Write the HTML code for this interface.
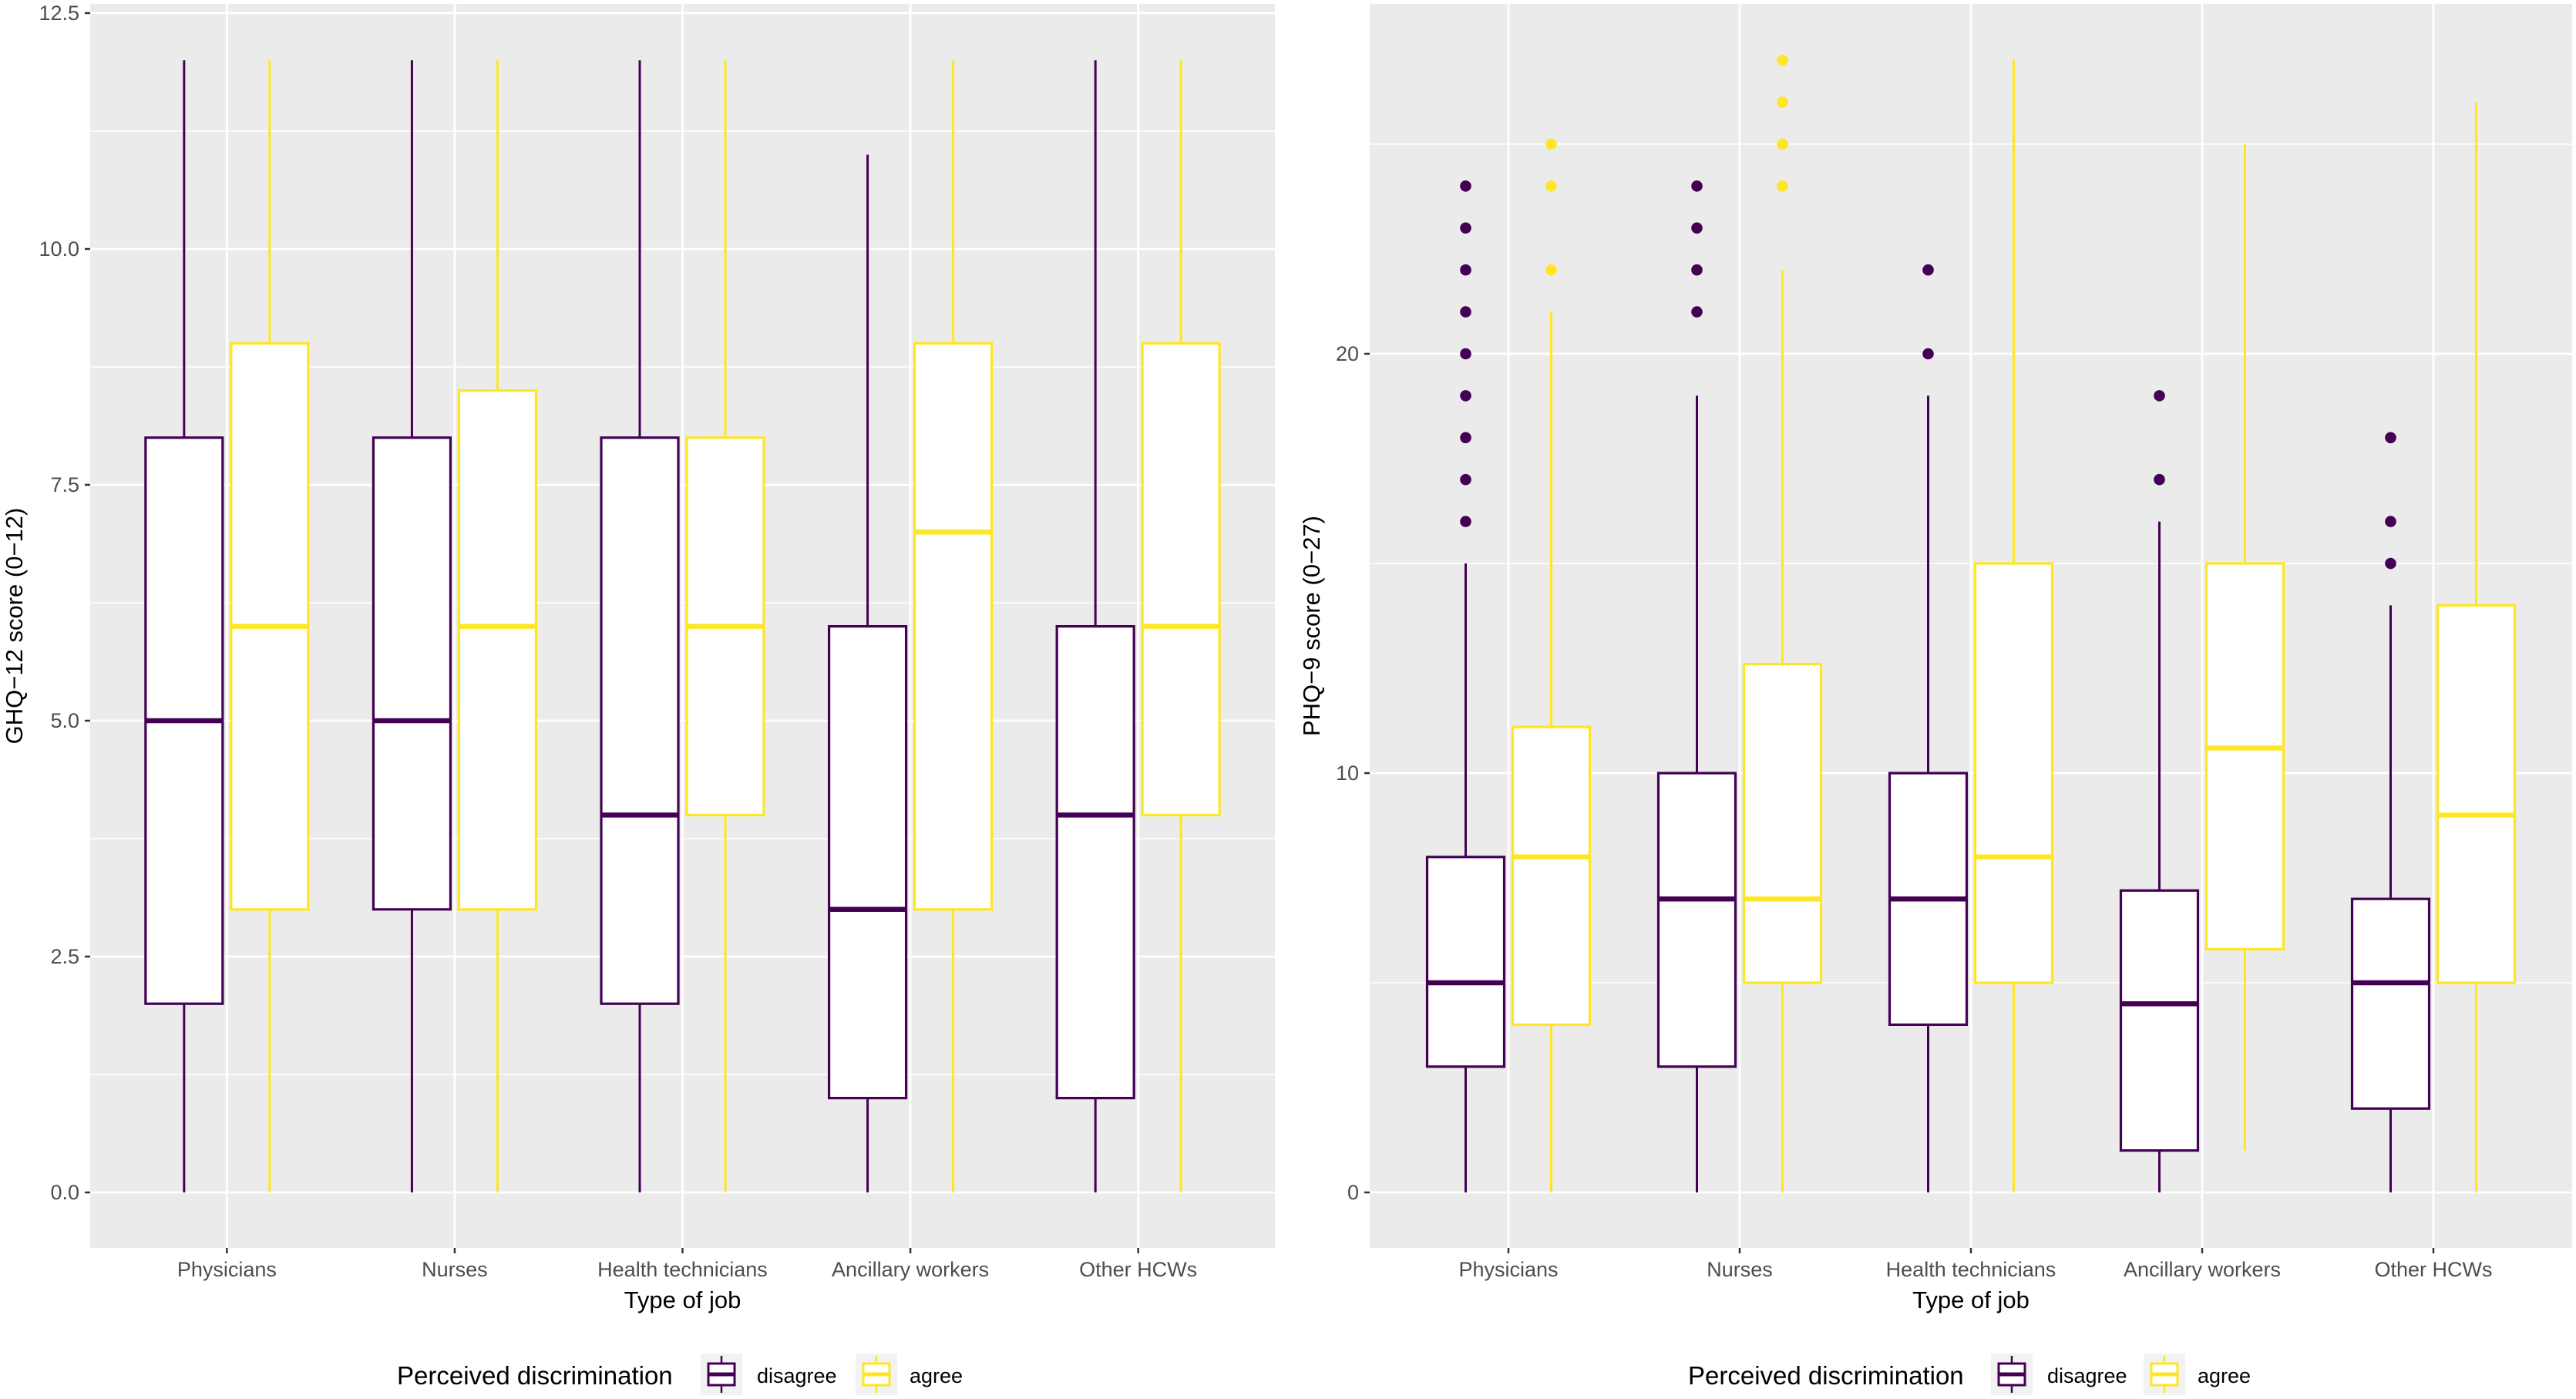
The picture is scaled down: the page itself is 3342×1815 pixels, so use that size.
<!DOCTYPE html>
<html><head><meta charset="utf-8"><style>
html,body{margin:0;padding:0;background:#fff}
svg{display:block;font-family:"Liberation Sans",Arial,sans-serif}
</style></head><body>
<svg id="chart" xmlns="http://www.w3.org/2000/svg" width="3342" height="1815" viewBox="0 0 3342 1815"></svg>
<script>
const categories = ["Physicians","Nurses","Health technicians","Ancillary workers","Other HCWs"];
// GHQ-12: [min, q1, median, q3, max]
const ghqDisagree = [[0,2,5,8,12],[0,3,5,8,12],[0,2,4,8,12],[0,1,3,6,11],[0,1,4,6,12]];
const ghqAgree = [[0,3,6,9,12],[0,3,6,8.5,12],[0,4,6,8,12],[0,3,7,9,12],[0,4,6,9,12]];
// PHQ-9
const phqDisagree = [[0,3,5,8,15],[0,3,7,10,19],[0,4,7,10,19],[0,1,4.5,7.2,16],[0,2,5,7,14]];
const phqAgree = [[0,4,8,11.1,21],[0,5,7,12.6,22],[0,5,8,15,27],[1,5.8,10.6,15,25],[0,5,9,14,26]];
const phqOutDisagree = [[16,17,18,19,20,21,22,23,24],[21,22,23,24],[20,22],[17,19],[15,16,18]];
const phqOutAgree = [[22,24,25],[24,25,26,27],[],[],[]];
const ghqTicks = [0,2.5,5,7.5,10,12.5];
const ghqTickLabels = ["0.0","2.5","5.0","7.5","10.0","12.5"];
const phqTicks = [0,10,20];
const phqTickLabels = ["0","10","20"];

const NS="http://www.w3.org/2000/svg";
const svg=document.getElementById('chart');
const PURPLE="#440154", YELLOW="#FDE725";
function mk(tag,attrs,parent){const e=document.createElementNS(NS,tag);for(const k in attrs)e.setAttribute(k,attrs[k]);(parent||svg).appendChild(e);return e;}

function panel(cfg){
  const g=mk('g',{});
  
  
  const L=cfg.left,R=cfg.right,T=5,B=1619,y0=1547;
  const ys=v=>y0-v*cfg.ppu;
  const step=(R-L)/5.2;
  const xs=i=>L+step*(0.6+i);
  const bg=mk('rect',{x:L,y:T,width:R-L,height:B-T,fill:"#EBEBEB"},g);
  
  
  const vmax=(y0-T)/cfg.ppu;
  for(let i=0;i<cfg.ticks.length;i++){
    const m=cfg.ticks[i]+cfg.minorStep;
    if(m<vmax) mk('line',{x1:L,x2:R,y1:ys(m),y2:ys(m),stroke:"#fff","stroke-width":1.4},g);
  }
  cfg.ticks.forEach((t,i)=>{
    const gl=mk('line',{x1:L,x2:R,y1:ys(t),y2:ys(t),stroke:"#fff","stroke-width":2.8},g);
    
    
    mk('line',{x1:L-7,x2:L,y1:ys(t),y2:ys(t),stroke:"#333","stroke-width":2.5},g);
    const tl=mk('text',{x:L-14,y:ys(t)+9,"text-anchor":"end","font-size":27,fill:"#4D4D4D"},g);
    tl.textContent=cfg.tickLabels[i];
    
    
  });
  categories.forEach((c,i)=>{
    mk('line',{x1:xs(i),x2:xs(i),y1:T,y2:B,stroke:"#fff","stroke-width":2.8},g);
    mk('line',{x1:xs(i),x2:xs(i),y1:B,y2:B+7,stroke:"#333","stroke-width":2.5},g);
    const tl=mk('text',{x:xs(i),y:1656,"text-anchor":"middle","font-size":27,fill:"#4D4D4D"},g);
    tl.textContent=c;
    
    
  });
  const series=[[cfg.dis,cfg.outDis,PURPLE,-55.5,'disagree'],[cfg.agr,cfg.outAgr,YELLOW,55.5,'agree']];
  series.forEach(([data,outs,col,off,nm])=>{
    data.forEach((d,i)=>{
      const cx=xs(i)+off,w=100;
      const bx=mk('g',{},g);
      
      
      mk('line',{x1:cx,x2:cx,y1:ys(d[0]),y2:ys(d[1]),stroke:col,"stroke-width":3},bx);
      mk('line',{x1:cx,x2:cx,y1:ys(d[3]),y2:ys(d[4]),stroke:col,"stroke-width":3},bx);
      mk('rect',{x:cx-w/2,y:ys(d[3]),width:w,height:ys(d[1])-ys(d[3]),fill:"#fff",stroke:col,"stroke-width":3.2},bx);
      mk('line',{x1:cx-w/2,x2:cx+w/2,y1:ys(d[2]),y2:ys(d[2]),stroke:col,"stroke-width":6.5},bx);
      (outs?outs[i]:[]).forEach(o=>{
        const p=mk('circle',{cx:cx,cy:ys(o),r:7.3,fill:col},bx);
        
        
      });
    });
  });
  const xt=mk('text',{x:(L+R)/2,y:1697,"text-anchor":"middle","font-size":31,fill:"#000"},g);
  xt.textContent="Type of job";
  
  
  const yt=mk('text',{x:0,y:0,"text-anchor":"middle","font-size":31,fill:"#000",transform:`translate(${cfg.ytX},${(T+B)/2}) rotate(-90)`},g);
  yt.textContent=cfg.ytitle;
  
  
  const lg=mk('g',{},g);
  
  
  const lt=mk('text',{x:cfg.legX,y:1796,"font-size":33,fill:"#000"},lg);
  lt.textContent="Perceived discrimination";
  [[PURPLE,'disagree',cfg.k1],[YELLOW,'agree',cfg.k2]].forEach(([col,lab,kx])=>{
    const e=mk('g',{},lg);
    
    
    mk('rect',{x:kx,y:1756,width:54,height:54,fill:"#F2F2F2"},e);
    mk('line',{x1:kx+27,x2:kx+27,y1:1759,y2:1807,stroke:col,"stroke-width":2.5},e);
    mk('rect',{x:kx+10,y:1769,width:34,height:28,fill:"#fff",stroke:col,"stroke-width":3},e);
    mk('line',{x1:kx+10,x2:kx+44,y1:1783,y2:1783,stroke:col,"stroke-width":5},e);
    const t=mk('text',{x:kx+(lab==='disagree'?73:70),y:1794,"font-size":27,fill:"#000"},e);
    t.textContent=lab;
  });
}
panel({name:'ghq-panel',left:117,right:1654,ppu:122.4,ticks:ghqTicks,tickLabels:ghqTickLabels,minorStep:1.25,
  dis:ghqDisagree,agr:ghqAgree,outDis:null,outAgr:null,ytitle:"GHQ\u221212 score (0\u221212)",ytX:29,legX:515,k1:909,k2:1110});
panel({name:'phq-panel',left:1777,right:3337,ppu:54.4,ticks:phqTicks,tickLabels:phqTickLabels,minorStep:5,
  dis:phqDisagree,agr:phqAgree,outDis:phqOutDisagree,outAgr:phqOutAgree,ytitle:"PHQ\u22129 score (0\u221227)",ytX:1712,legX:2190,k1:2583,k2:2781});
</script>
</body></html>
